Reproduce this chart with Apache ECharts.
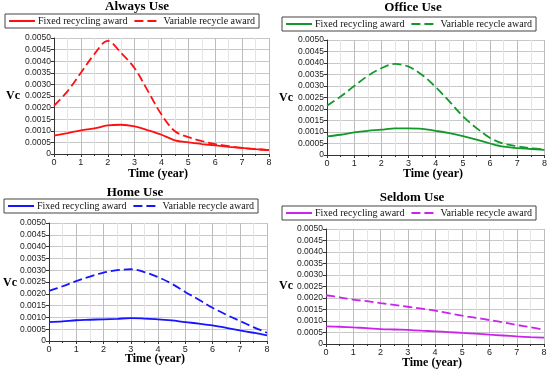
<!DOCTYPE html>
<html><head><meta charset="utf-8">
<script src="https://cdn.jsdelivr.net/npm/echarts@6/dist/echarts.min.js"></script>
<style>html,body{margin:0;padding:0;background:#fff}#c{width:550px;height:374px}</style>
</head><body><div id="c"></div>
<script>
var timeYears = [0,0.5,1,1.5,2,2.5,3,3.5,4,4.5,5,5.5,6,6.5,7,7.5,8];
var xTicks = [0,1,2,3,4,5,6,7,8];
var yTicks = ['0','0.0005','0.0010','0.0015','0.0020','0.0025','0.0030','0.0035','0.0040','0.0045','0.0050'];
var panelTitles = ['Always Use','Office Use','Home Use','Seldom Use'];
var seriesNames = ['Fixed recycling award','Variable recycle award'];
var alwaysFixed    = [0.00079,0.0009,0.00102,0.0011,0.00123,0.00126,0.00119,0.00102,0.00083,0.00059,0.0005,0.00043,0.00037,0.00031,0.00026,0.00021,0.00017];
var alwaysVariable = [0.00208,0.0027,0.0035,0.0043,0.00488,0.00435,0.0037,0.0027,0.0017,0.00098,0.00073,0.00056,0.00043,0.00034,0.00026,0.00021,0.00017];
var officeFixed    = [0.00081,0.00088,0.00098,0.00105,0.0011,0.00116,0.00116,0.00114,0.00105,0.00095,0.00082,0.00067,0.0005,0.00036,0.0003,0.00026,0.00022];
var officeVariable = [0.00214,0.00254,0.003,0.00344,0.00377,0.00396,0.00384,0.00348,0.00295,0.00233,0.00168,0.00117,0.00074,0.00049,0.00038,0.00029,0.00025];
var homeFixed      = [0.0008,0.00083,0.00088,0.0009,0.00092,0.00094,0.00097,0.00095,0.00092,0.00087,0.0008,0.00074,0.00066,0.00056,0.00045,0.00035,0.00024];
var homeVariable   = [0.00212,0.00232,0.00254,0.00273,0.0029,0.003,0.00304,0.00292,0.00271,0.00243,0.00208,0.00175,0.00141,0.00112,0.00085,0.00059,0.00035];
var seldomFixed    = [0.00077,0.00075,0.00072,0.00069,0.00065,0.00063,0.00061,0.00058,0.00055,0.00052,0.00048,0.00045,0.00041,0.00037,0.00033,0.0003,0.00028];
var seldomVariable = [0.00212,0.00203,0.00193,0.00186,0.00178,0.0017,0.00162,0.00154,0.00145,0.00134,0.00123,0.00114,0.00104,0.00094,0.00083,0.00073,0.00062];

var panelData = [[alwaysFixed,alwaysVariable],[officeFixed,officeVariable],[homeFixed,homeVariable],[seldomFixed,seldomVariable]];
var colors = ['#ff1010','#12992a','#1515ff','#cc22ee'];

var grids = [
  {left:54, top:38, width:215, height:116},
  {left:327, top:40, width:219, height:115},
  {left:49, top:223, width:218, height:118},
  {left:326, top:229, width:218, height:115}
];
var titlePos = [[137,0],[413,1],[135,186],[412,191]];
var legendPos = [[5,14],[282,17],[4,199],[282,206]];
var vcPos = [[13,97],[286,99],[10,284],[286,287]];
var timePos = [[161,176],[436,176],[158,361],[435,365]];

var serif = 'Liberation Serif';
var sans = 'Liberation Sans';

var option = {
  animation:false,
  backgroundColor:'#fff',
  title: panelTitles.map(function(t,i){return {text:t,left:titlePos[i][0],top:titlePos[i][1],textAlign:'center',padding:0,
    textStyle:{fontFamily:serif,fontWeight:'bold',fontSize:13,color:'#000'}};}),
  legend: panelTitles.map(function(t,i){return {
    left:legendPos[i][0], top:legendPos[i][1], orient:'horizontal', width:300,
    data: seriesNames.map(function(n){return n+'|'+i;}),
    formatter:function(name){return name.split('|')[0];},
    itemWidth:26, itemHeight:10, itemGap:6, padding:[2,4,2,3],
    itemStyle:{opacity:0},
    borderColor:'#444', borderWidth:1, selectedMode:false,
    textStyle:{fontFamily:serif,fontSize:10,color:'#111',padding:[0,0,0,-2]}
  };}),
  grid: grids,
  xAxis: grids.map(function(g,i){return {
    type:'value', gridIndex:i, min:xTicks[0], max:xTicks[xTicks.length-1], interval:1,
    axisLine:{show:true,lineStyle:{color:'#333',width:1}},
    axisTick:{show:true,length:3,lineStyle:{color:'#333'}},
    minorTick:{show:true,splitNumber:2,length:2,lineStyle:{color:'#333'}},
    splitLine:{show:true,lineStyle:{color:'#bdbdbd',width:1}},
    minorSplitLine:{show:true,lineStyle:{color:'#e4e4e4',width:1}},
    axisLabel:{fontFamily:sans,fontSize:9,color:'#222',margin:4}
  };}),
  yAxis: grids.map(function(g,i){return {
    type:'value', gridIndex:i, min:0, max:0.005, interval:0.0005,
    axisLine:{show:true,lineStyle:{color:'#333',width:1}},
    axisTick:{show:true,length:3,lineStyle:{color:'#333'}},
    splitLine:{show:true,lineStyle:{color:'#c8c8c8',width:1}},
    axisLabel:{fontFamily:sans,fontSize:8.5,color:'#222',margin:3,
      formatter:function(v){return yTicks[Math.round(v/0.0005)];}}
  };}),
  graphic: [].concat(
    vcPos.map(function(p){return {type:'text',left:p[0]-7,top:p[1]-7,style:{text:'Vc',font:'bold 12px '+serif,fill:'#000'}};}),
    timePos.map(function(p){return {type:'text',left:p[0]-33,top:p[1]-8,style:{text:'Time (year)',font:'bold 12px '+serif,fill:'#000'}};})
  ),
  series: []
};
panelData.forEach(function(pair,i){
  pair.forEach(function(vals,k){
    option.series.push({
      type:'line', name: seriesNames[k]+'|'+i, xAxisIndex:i, yAxisIndex:i,
      data: timeYears.map(function(x,j){return [x, vals[j]];}),
      smooth:0.35, symbol:'none', showSymbol:false,
      lineStyle:{color:colors[i],width:1.8,type: k===0?'solid':[9,4]},
      itemStyle:{color:colors[i]}
    });
  });
});
var chart = echarts.init(document.getElementById('c'));
chart.setOption(option);
</script>
</body></html>
